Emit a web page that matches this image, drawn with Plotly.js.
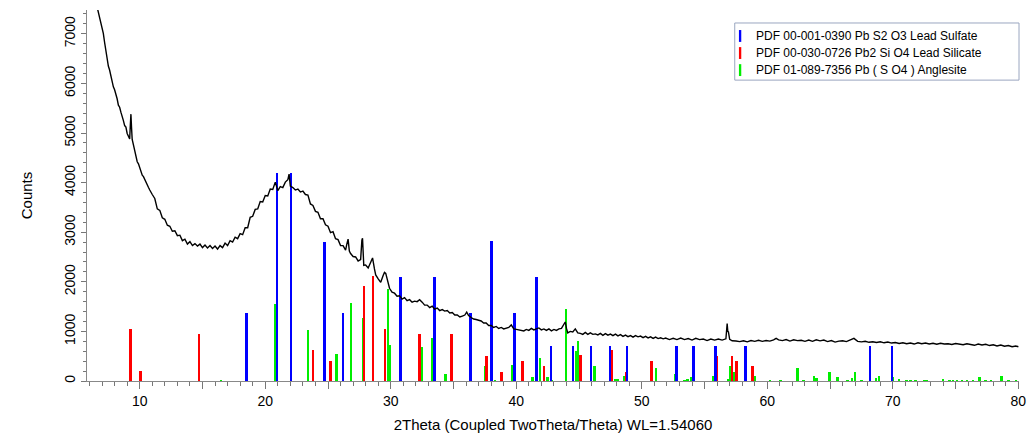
<!DOCTYPE html>
<html><head><meta charset="utf-8">
<script src="https://cdn.plot.ly/plotly-3.0.1.min.js"></script>
<style>html,body{margin:0;padding:0;background:#fff}#chart{width:1028px;height:433px}</style>
</head><body><div id="chart"></div>
<script>
// Measured pattern as [2Theta, Counts] pairs
const pattern = [
[6.55,7600],[6.7,7440],[6.8,7330],[6.9,7260],[7.0,7120],[7.1,7010],[7.2,6830],[7.3,6640],[7.4,6500],[7.5,6350],
[7.6,6270],[7.7,6150],[7.8,6020],[7.9,5930],[8.0,5870],[8.1,5790],[8.2,5690],[8.3,5560],[8.4,5520],[8.5,5420],
[8.6,5300],[8.7,5250],[8.8,5150],[8.9,5120],[9.0,4990],[9.1,4930],[9.2,4880],[9.25,5150],[9.3,5380],[9.35,5100],
[9.4,4870],[9.5,4760],[9.6,4640],[9.7,4500],[9.8,4420],[9.9,4380],[10.0,4300],[10.1,4240],[10.2,4150],[10.3,4120],
[10.4,4060],[10.5,3990],[10.6,3950],[10.7,3900],[10.8,3850],[10.9,3790],
[11.0,3760],[11.2,3680],[11.4,3470],[11.6,3440],[11.8,3290],[12.0,3260],[12.2,3140],[12.4,3120],[12.6,3020],[12.8,3030],
[13.0,2930],[13.2,2940],[13.4,2830],[13.6,2860],[13.8,2760],[14.0,2810],[14.2,2730],[14.4,2770],[14.6,2720],[14.8,2760],
[15.0,2690],[15.2,2740],[15.4,2680],[15.6,2730],[15.8,2670],[16.0,2720],[16.2,2660],[16.4,2730],[16.6,2690],[16.8,2780],
[17.0,2730],[17.2,2830],[17.4,2800],[17.6,2900],[17.8,2870],[18.0,2970],[18.2,2950],[18.4,3090],[18.6,3090],[18.8,3300],
[19.0,3320],[19.2,3460],[19.4,3470],[19.6,3620],[19.8,3610],[20.0,3740],[20.2,3730],[20.4,3870],[20.6,3860],[20.8,4010],
[21.0,3840],[21.2,3920],[21.4,3900],[21.6,4010],[21.8,4060],[21.9,4170],[22.0,3930],[22.2,3900],[22.4,3850],[22.6,3870],
[22.8,3810],[23.0,3830],[23.2,3760],[23.4,3750],[23.6,3570],[23.8,3540],[24.0,3420],[24.2,3400],[24.4,3270],[24.6,3270],
[24.8,3150],[25.0,3120],[25.2,2990],[25.4,3010],[25.6,2870],[25.8,2850],[26.0,2730],[26.2,2730],[26.4,2640],[26.5,2760],
[26.6,2860],[26.7,2620],[26.8,2570],[27.0,2510],[27.2,2500],[27.4,2420],[27.6,2450],[27.7,2840],[27.75,2880],[27.85,2330],
[28.0,2340],[28.2,2280],[28.4,2390],[28.55,2480],[28.7,2260],[28.8,2140],[29.0,2060],[29.2,1990],[29.4,2130],[29.5,2190],
[29.6,2170],[29.7,2050],[29.9,1870],[30.1,1790],[30.3,1770],[30.5,1710],[30.7,1720],[30.9,1650],[31.1,1680],[31.3,1620],
[31.5,1640],[31.7,1590],[31.9,1610],[32.1,1600],[32.3,1640],[32.5,1590],[32.7,1530],[32.9,1530],[33.1,1480],[33.3,1510],
[33.5,1450],[33.7,1470],[33.9,1420],[34.1,1440],[34.3,1410],[34.5,1420],[34.7,1370],[34.9,1380],[35.1,1330],[35.3,1330],
[35.5,1290],[35.7,1310],[35.9,1330],[36.05,1390],[36.2,1320],[36.4,1280],[36.6,1250],[36.8,1240],[37.0,1220],[37.2,1210],
[37.4,1170],[37.6,1170],[37.8,1120],[38.0,1120],[38.2,1080],[38.4,1100],[38.6,1060],[38.8,1080],[39.0,1050],[39.2,1070],
[39.4,1080],[39.6,1130],[39.8,1050],[40.0,1040],[40.2,1030],[40.4,1030],[40.6,1010],[40.8,1040],[41.0,1020],[41.2,1060],
[41.4,1030],[41.6,1050],[41.8,1070],[42.0,1030],[42.2,1050],[42.4,1020],[42.6,1050],[42.8,1010],[43.0,1040],[43.2,1020],
[43.4,1050],[43.6,1060],[43.8,1150],[43.9,1190],[44.0,1060],[44.1,970],[44.3,1000],[44.5,990],[44.7,1050],[44.9,970],
[45.1,960],[45.3,940],[45.5,980],[45.7,940],[45.9,970],[46.1,940],[46.3,950],[46.5,930],[46.7,960],[46.9,920],
[47.1,955],[47.3,925],[47.5,945],[47.7,915],[47.9,945],[48.1,910],[48.3,935],[48.5,900],[48.7,925],[48.9,895],
[49.1,915],[49.3,885],[49.5,915],[49.7,890],[49.9,905],[50.1,875],[50.3,900],[50.5,870],[50.7,890],[50.9,860],
[51.1,885],[51.3,855],[51.5,870],[51.7,850],[51.9,865],[52.2,835],[52.5,860],[52.8,835],[53.1,865],[53.4,835],
[53.7,855],[54.0,825],[54.3,860],[54.6,835],[54.9,845],[55.2,815],[55.5,845],[55.8,825],[56.1,845],[56.4,825],
[56.7,850],[56.8,1160],[56.85,1000],[56.9,990],[57.0,840],[57.2,810],[57.5,805],[57.8,795],[58.1,810],[58.4,790],
[58.7,815],[59.0,800],[59.3,820],[59.6,800],[59.9,815],[60.2,805],[60.5,830],[60.7,860],[60.9,830],[61.2,815],
[61.5,835],[61.8,805],[62.1,830],[62.4,815],[62.7,820],[63.0,800],[63.3,825],[63.6,800],[63.9,830],[64.2,810],
[64.5,825],[64.8,795],[65.1,815],[65.4,785],[65.7,805],[66.0,810],[66.3,795],[66.6,830],[66.9,860],[67.2,800],
[67.5,790],[67.8,800],[68.1,780],[68.4,790],[68.7,775],[69.0,790],[69.3,770],[69.6,785],[69.9,765],[70.2,775],
[70.5,755],[70.8,770],[71.1,750],[71.4,765],[71.7,745],[72.0,770],[72.3,750],[72.6,765],[72.9,745],[73.2,760],
[73.5,740],[73.8,760],[74.1,745],[74.4,750],[74.7,735],[75.0,755],[75.3,740],[75.6,730],[75.9,750],[76.2,740],
[76.5,720],[76.8,745],[77.1,725],[77.4,740],[77.7,715],[78.0,730],[78.3,705],[78.6,725],[78.9,700],[79.2,715],
[79.5,690],[79.8,705],[80.0,690]
];
const patternTheta = pattern.map(p => p[0]);
const patternCounts = pattern.map(p => p[1]);

// Reference patterns: PDF 00-001-0390 Pb S2 O3 Lead Sulfate
const sulfateTheta = [18.49,20.95,22.06,24.74,26.19,30.79,33.49,36.35,38.02,39.84,41.59,42.78,44.52,45.95,47.46,48.81,52.78,54.13,55.87,58.25,68.17,69.92];
const sulfateCounts = [1380,4200,4200,2800,1380,2100,2100,1380,2830,1380,2100,700,700,700,700,700,700,700,700,700,700,700];

// PDF 00-030-0726 Pb2 Si O4 Lead Silicate
const silicateTheta = [9.26,10.08,14.74,23.8,25.2,27.86,28.57,29.55,32.27,34.84,37.64,38.83,40.48,41.61,42.2,45.13,47.64,48.78,50.79,55.95,57.17,57.54,58.81];
const silicateCounts = [1050,200,940,630,410,1920,2120,1050,940,940,510,190,400,190,300,520,620,190,400,500,510,400,300];

// PDF 01-089-7356 Pb ( S O4 ) Anglesite
const anglesiteTheta = [16.48,20.82,20.9,23.39,24.68,25.66,26.83,27.78,29.79,29.92,32.44,33.28,33.43,34.37,37.5,38.3,39.68,40.45,41.3,41.88,42.5,42.8,43.97,44.76,44.9,46.22,47.91,48.1,48.6,51.14,52.7,53.4,53.65,53.9,54.07,55.7,56.0,56.9,57.04,57.4,59.0,60.2,61.05,62.4,62.9,63.7,63.9,64.96,65.6,66.4,66.75,67.0,67.5,68.65,68.9,70.0,70.5,71.1,71.4,71.8,72.5,72.7,74.0,74.5,74.8,75.1,75.5,75.9,76.4,76.9,77.4,77.8,78.65,79.2,79.8];
const anglesiteCounts = [30,1560,720,1030,360,545,1570,1280,1850,730,690,875,525,150,300,15,320,70,80,470,80,20,1450,600,800,300,40,40,100,270,140,20,50,90,190,100,20,50,300,180,100,20,15,260,20,100,60,190,75,20,60,180,30,60,100,90,50,20,30,20,20,30,50,20,20,30,20,20,20,75,30,20,100,20,20];

const legendLabels = ["PDF 00-001-0390 Pb S2 O3 Lead Sulfate","PDF 00-030-0726 Pb2 Si O4 Lead Silicate","PDF 01-089-7356 Pb ( S O4 ) Anglesite"];
const legendColors = ["#0000ff","#ff0000","#00ee00"];
const xTickVals = [10,15,20,25,30,35,40,45,50,55,60,65,70,75,80];
const xTickText = ["10","","20","","30","","40","","50","","60","","70","","80"];
const yTickVals = [0,1000,2000,3000,4000,5000,6000,7000];

const font = "Liberation Sans, Arial, sans-serif";
const barW = 0.2;
const traces = [
  {type:'bar', x: anglesiteTheta, y: anglesiteCounts, width: barW, marker:{color: legendColors[2], line:{width:0}}, showlegend:false},
  {type:'bar', x: silicateTheta, y: silicateCounts, width: barW, marker:{color: legendColors[1], line:{width:0}}, showlegend:false},
  {type:'bar', x: sulfateTheta, y: sulfateCounts, width: barW, marker:{color: legendColors[0], line:{width:0}}, showlegend:false},
  {type:'scatter', mode:'lines', x: patternTheta, y: patternCounts, line:{color:'#000', width:1.4}, showlegend:false}
];

// custom legend (thin bar swatches)
const shapes = [{type:'rect', xref:'paper', yref:'paper', x0:0.695, x1:1.0, y0:0.811, y1:0.965, line:{color:'#9aa6c0', width:1}, fillcolor:'#fff', layer:'above'}];
const annotations = [];
legendLabels.forEach((t,i)=>{
  const yc = 0.930 - i*0.046;
  shapes.push({type:'rect', xref:'paper', yref:'paper', x0:0.6995, x1:0.7020, y0:yc-0.016, y1:yc+0.016, fillcolor:legendColors[i], line:{width:0}, layer:'above'});
  annotations.push({xref:'paper', yref:'paper', x:0.7155, y:yc, xanchor:'left', yanchor:'middle', text:t, showarrow:false, font:{family:font, size:12, color:'#000'}});
});

const layout = {
  width:1028, height:433,
  margin:{l:87, r:9, t:10, b:52},
  paper_bgcolor:'#fff', plot_bgcolor:'#fff',
  barmode:'overlay', bargap:0,
  showlegend:false,
  font:{family:font, color:'#000'},
  xaxis:{range:[5.8,80.05], tickvals:xTickVals, ticktext:xTickText, ticks:'outside', ticklen:7, tickcolor:'#777', tickwidth:1,
         ticklabeloverflow:'allow',
         minor:{dtick:1, tick0:0, ticks:'outside', ticklen:4, tickcolor:'#777'},
         showline:true, linecolor:'#888', linewidth:1, showgrid:false, zeroline:false,
         tickfont:{size:14, family:font}, title:{text:'2Theta (Coupled TwoTheta/Theta) WL=1.54060', font:{size:15, family:font}, standoff:12}},
  yaxis:{range:[0,7480], tickvals:yTickVals, ticks:'outside', ticklen:5, tickcolor:'#777', tickangle:-90,
         minor:{dtick:200, tick0:0, ticks:'outside', ticklen:3, tickcolor:'#777'},
         showline:true, linecolor:'#888', linewidth:1, showgrid:false, zeroline:false,
         tickfont:{size:14, family:font}, title:{text:'Counts', font:{size:15, family:font}, standoff:26}},
  shapes: shapes, annotations: annotations
};
Plotly.newPlot('chart', traces, layout, {staticPlot:true, displayModeBar:false});
</script></body></html>
